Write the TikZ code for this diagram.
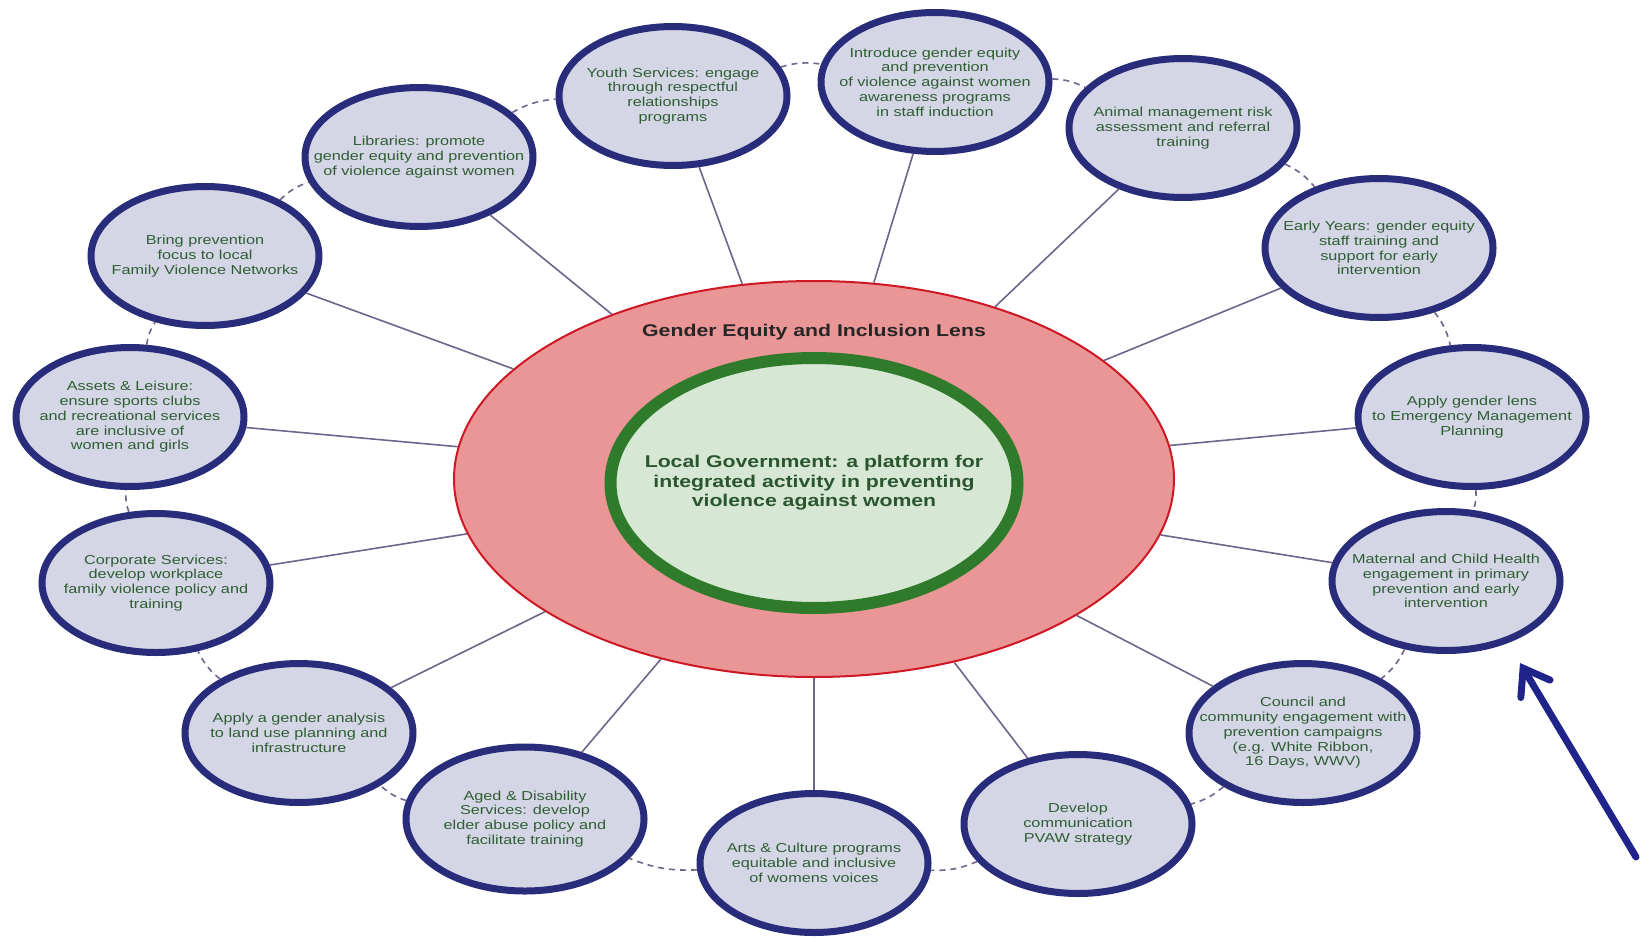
\documentclass[tikz,border=0pt]{standalone}
\usepackage{fontspec}
\setmainfont{Liberation Sans}[FakeStretch=1.25]
\usepackage{tikz}
\usetikzlibrary{shapes,arrows.meta}

\definecolor{navyring}{RGB}{40,44,122}
\definecolor{lavfill}{RGB}{212,213,229}
\definecolor{leafgreen}{RGB}{48,94,52}
\definecolor{lensred}{RGB}{206,24,36}
\definecolor{lenspink}{RGB}{234,150,150}
\definecolor{ringgreen}{RGB}{48,122,44}
\definecolor{palegreen}{RGB}{214,232,212}
\definecolor{spokecol}{RGB}{112,100,140}
\definecolor{arrowblue}{RGB}{32,36,138}

\begin{document}
\begin{tikzpicture}[x=1pt,y=-1pt,
    area/.style={ellipse,draw=navyring,line width=7pt,fill=lavfill,
        minimum width=228pt,minimum height=139pt,inner xsep=-35pt,inner ysep=0pt,align=center,
        text=leafgreen,font=\fontsize{13}{14.8}\selectfont},
    spoke/.style={draw=spokecol,line width=1.6pt},
    ringlink/.style={draw=spokecol,line width=1.6pt,dash pattern=on 6pt off 5pt}]
    \useasboundingbox (0,0) rectangle (1641,937);
    % the lens and the core
    \node[ellipse,draw=lensred,line width=2pt,fill=lenspink,minimum width=720pt,minimum height=396pt] (lens) at (814,479) {};
    \node[font=\bfseries\fontsize{17}{19.5}\selectfont,text=black!85] (lenslabel) at (814,332) {Gender Equity and Inclusion Lens};
    \node[ellipse,draw=ringgreen,line width=12pt,fill=palegreen,minimum width=407pt,minimum height=250pt,
        inner xsep=-40pt,inner ysep=0pt,align=center,text=leafgreen!90!black,
        font=\bfseries\fontsize{17}{19.5}\selectfont] (core) at (814,483)
        {Local Government: a platform for\\integrated activity in preventing\\violence against women};
    % top half
    \node[area] (bring) at (205,256) {Bring prevention\\focus to local\\Family Violence Networks};
    \node[area] (lib) at (419,157) {Libraries: promote\\gender equity and prevention\\of violence against women};
    \node[area] (youth) at (673,96) {Youth Services: engage\\through respectful\\relationships\\programs};
    \node[area] (induct) at (935,82) {Introduce gender equity\\and prevention\\of violence against women\\awareness programs\\in staff induction};
    \node[area] (animal) at (1183,128) {Animal management risk\\assessment and referral\\training};
    \node[area] (early) at (1379,248) {Early Years: gender equity\\staff training and\\support for early\\intervention};
    \node[area] (emerg) at (1472,417) {Apply gender lens\\to Emergency Management\\Planning};
    % bottom half
    \node[area] (mch) at (1446,581) {Maternal and Child Health\\engagement in primary\\prevention and early\\intervention};
    \node[area] (council) at (1303,733) {Council and\\community engagement with\\prevention campaigns\\(e.g. White Ribbon,\\16 Days, WWV)};
    \node[area] (comms) at (1078,824) {Develop\\communication\\PVAW strategy};
    \node[area] (arts) at (814,863) {Arts \& Culture programs\\equitable and inclusive\\of womens voices};
    \node[area,minimum width=238pt,minimum height=144pt] (aged) at (525,819) {Aged \& Disability\\Services: develop\\elder abuse policy and\\facilitate training};
    \node[area] (landuse) at (299,733) {Apply a gender analysis\\to land use planning and\\infrastructure};
    \node[area] (corp) at (156,583) {Corporate Services:\\develop workplace\\family violence policy and\\training};
    \node[area] (assets) at (130,417) {Assets \& Leisure:\\ensure sports clubs\\and recreational services\\are inclusive of\\women and girls};
    % spokes into the lens
    \foreach \c in {bring,lib,youth,induct,animal,early,emerg,mch,council,comms,arts,aged,landuse,corp,assets}
        \draw[spoke] (\c) -- (lens);
    % dashed ring between neighbours
    \foreach \a/\b in {bring/lib,lib/youth,youth/induct,induct/animal,animal/early,early/emerg,emerg/mch,
        mch/council,council/comms,comms/arts,arts/aged,aged/landuse,landuse/corp,corp/assets,assets/bring}
        \draw[ringlink] (\a) to[bend left=12] (\b);
    % pointer
    \coordinate (pointtail) at (1636,857);
    \coordinate (pointtip) at (1520,663);
    \draw[arrowblue,line width=7pt,line cap=round,-{Straight Barb[length=24pt,width=34pt,line cap=round]}] (pointtail) -- (pointtip);
\end{tikzpicture}
\end{document}
